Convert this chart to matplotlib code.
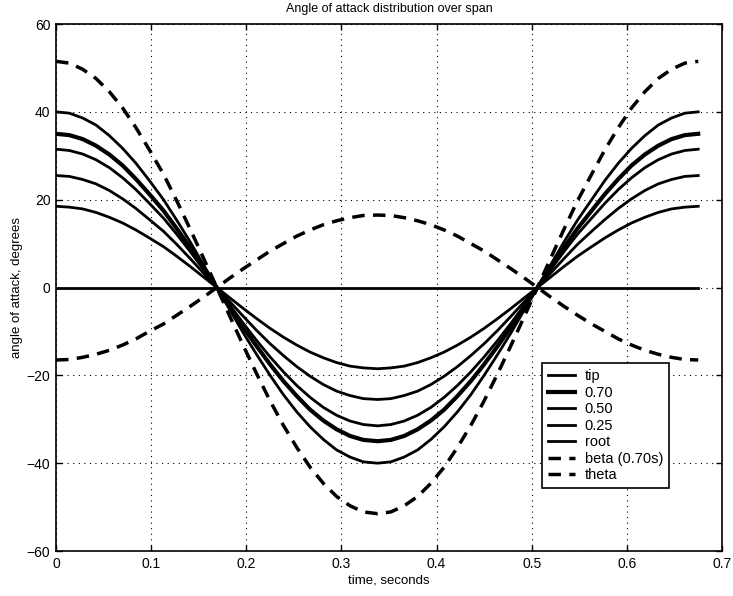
import matplotlib
matplotlib.use('Agg')
import matplotlib.pyplot as plt

plt.rcParams['font.family'] = ['Liberation Sans', 'DejaVu Sans']

# time samples, seconds (one full cycle)
time = [0, 0.014, 0.028, 0.042, 0.056, 0.070, 0.084, 0.098, 0.113, 0.127, 0.141, 0.155,
        0.169, 0.183, 0.197, 0.211, 0.225, 0.239, 0.253, 0.267, 0.281, 0.295, 0.309, 0.323,
        0.338, 0.352, 0.366, 0.380, 0.394, 0.408, 0.422, 0.436, 0.450, 0.464, 0.478, 0.492,
        0.506, 0.520, 0.534, 0.548, 0.563, 0.577, 0.591, 0.605, 0.619, 0.633, 0.647, 0.661,
        0.675]

# first half of the cycle, degrees
half_tip = [40, 39.7, 38.6, 37.0, 34.6, 31.7, 28.3, 24.4, 20.0, 15.3, 10.4, 5.2, 0,
            -5.2, -10.4, -15.3, -20.0, -24.4, -28.3, -31.7, -34.6, -37.0, -38.6, -39.7, -40]
half_070 = [35, 34.7, 33.8, 32.3, 30.3, 27.8, 24.7, 21.3, 17.5, 13.4, 9.1, 4.6, 0,
            -4.6, -9.1, -13.4, -17.5, -21.3, -24.7, -27.8, -30.3, -32.3, -33.8, -34.7, -35]
half_050 = [31.5, 31.2, 30.4, 29.1, 27.3, 25.0, 22.3, 19.2, 15.8, 12.1, 8.2, 4.1, 0,
            -4.1, -8.2, -12.1, -15.8, -19.2, -22.3, -25.0, -27.3, -29.1, -30.4, -31.2, -31.5]
half_025 = [25.5, 25.3, 24.6, 23.6, 22.1, 20.2, 18.0, 15.5, 12.8, 9.8, 6.6, 3.3, 0,
            -3.3, -6.6, -9.8, -12.8, -15.5, -18.0, -20.2, -22.1, -23.6, -24.6, -25.3, -25.5]
half_root = [18.5, 18.3, 17.9, 17.1, 16.0, 14.7, 13.1, 11.3, 9.3, 7.1, 4.8, 2.4, 0,
             -2.4, -4.8, -7.1, -9.3, -11.3, -13.1, -14.7, -16.0, -17.1, -17.9, -18.3, -18.5]
half_beta = [-16.5, -16.4, -15.9, -15.2, -14.3, -13.1, -11.7, -10.0, -8.3, -6.3, -4.3, -2.2, 0,
             2.2, 4.3, 6.3, 8.3, 10.0, 11.7, 13.1, 14.3, 15.2, 15.9, 16.4, 16.5]
half_theta = [51.5, 51.1, 49.7, 47.6, 44.6, 40.9, 36.4, 31.4, 25.8, 19.7, 13.3, 6.7, 0,
              -6.7, -13.3, -19.7, -25.8, -31.4, -36.4, -40.9, -44.6, -47.6, -49.7, -51.1, -51.5]

# second half of the cycle mirrors the first
tip = half_tip + half_tip[-2::-1]
s070 = half_070 + half_070[-2::-1]
s050 = half_050 + half_050[-2::-1]
s025 = half_025 + half_025[-2::-1]
root = half_root + half_root[-2::-1]
beta = half_beta + half_beta[-2::-1]
theta = half_theta + half_theta[-2::-1]
zero = [0] * len(time)

fig = plt.figure(figsize=(7.33, 5.96), dpi=100)
ax = fig.add_axes([0.0764, 0.0755, 0.9086, 0.8842])

dash = (0, (3.6, 2.4))
ax.plot(time, tip, color='black', lw=2.0, label='tip')
ax.plot(time, s070, color='black', lw=3.0, label='0.70')
ax.plot(time, s050, color='black', lw=2.0, label='0.50')
ax.plot(time, s025, color='black', lw=2.0, label='0.25')
ax.plot(time, root, color='black', lw=2.0, label='root')
ax.plot(time, beta, color='black', lw=2.5, ls=dash, label='beta (0.70s)')
ax.plot(time, theta, color='black', lw=2.5, ls=dash, label='theta')
ax.plot(time, zero, color='black', lw=2.0)

ax.set_xlim(0, 0.7)
ax.set_ylim(-60, 60)
ax.set_xticks([0, 0.1, 0.2, 0.3, 0.4, 0.5, 0.6, 0.7])
ax.set_xticklabels(['0', '0.1', '0.2', '0.3', '0.4', '0.5', '0.6', '0.7'])
ax.set_yticks([-60, -40, -20, 0, 20, 40, 60])
ax.tick_params(direction='in', top=True, right=True, labelsize=10, length=4, width=1, pad=4)
ax.grid(True, color='black', ls=(0, (1, 4)), lw=0.8)
for sp in ax.spines.values():
    sp.set_linewidth(1.2)

ax.set_title('Angle of attack distribution over span', fontsize=9, pad=9)
ax.set_xlabel('time, seconds', fontsize=9.5, labelpad=3)
ax.set_ylabel('angle of attack, degrees', fontsize=9.5, labelpad=3)

leg = ax.legend(loc='lower right', bbox_to_anchor=(0.920, 0.1195), fontsize=10.5,
                fancybox=False, edgecolor='black', framealpha=1, handlelength=1.85,
                handletextpad=0.65, labelspacing=0.17, borderpad=0.4, borderaxespad=0)
leg.get_frame().set_linewidth(1.2)

fig.savefig('out.png', dpi=100)
